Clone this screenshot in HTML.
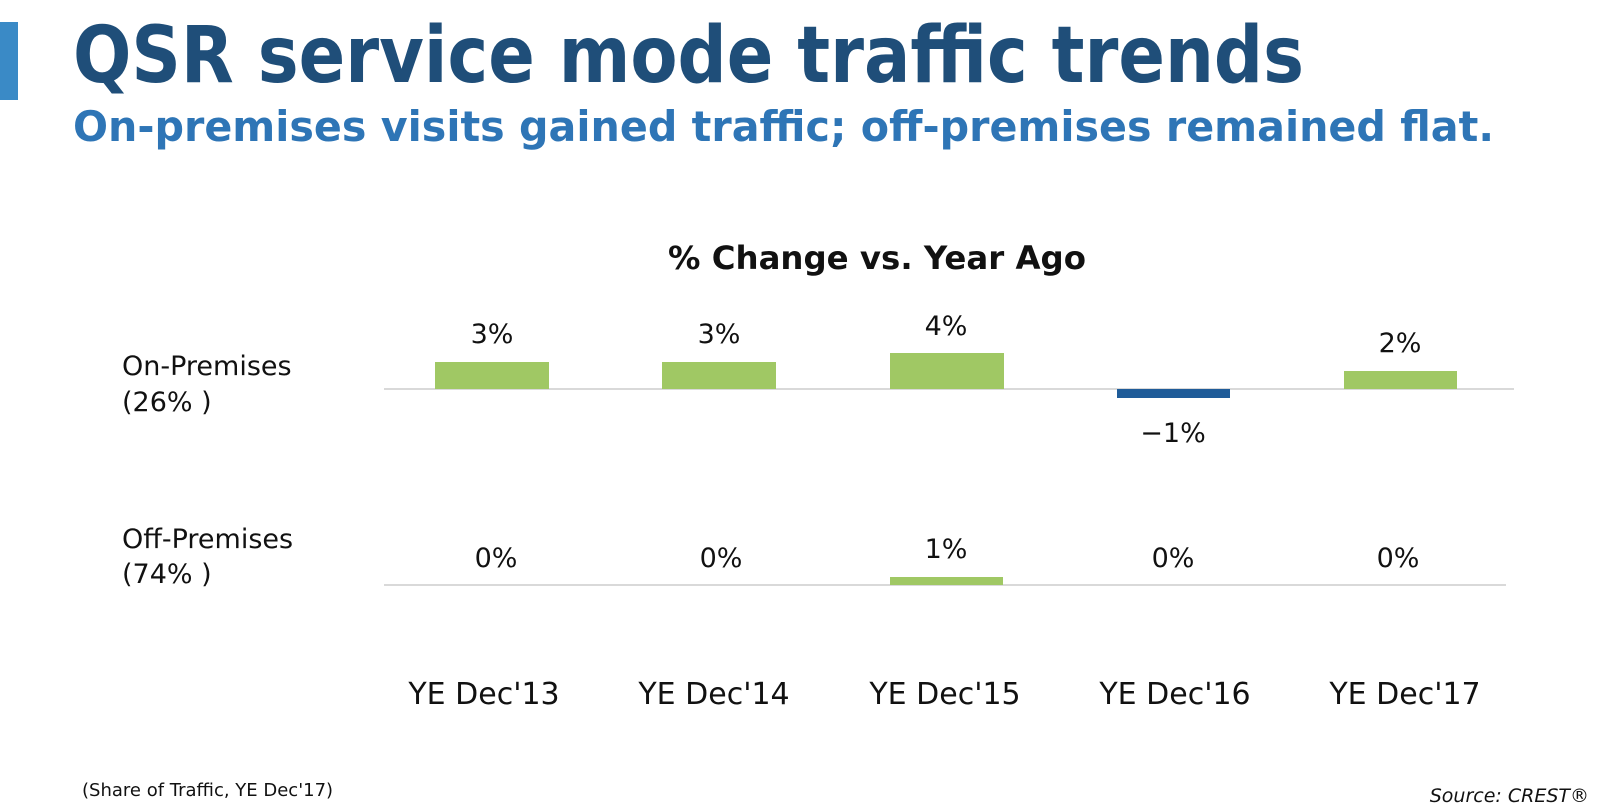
<!DOCTYPE html>
<html><head><style>body{margin:0;background:#fff}svg{display:block}</style></head>
<body>
<svg width="1600" height="806" xmlns="http://www.w3.org/2000/svg" font-family="'DejaVu Sans','Liberation Sans',sans-serif">
<rect x="0" y="22" width="18" height="78" fill="#3a8ac6"/>
<text x="73" y="82" font-size="78" font-weight="bold" fill="#1f4e79" textLength="1231" lengthAdjust="spacingAndGlyphs">QSR service mode traffic trends</text>
<text x="73" y="141" font-size="42" font-weight="bold" fill="#2e75b6" textLength="1421" lengthAdjust="spacingAndGlyphs">On-premises visits gained traffic; off-premises remained flat.</text>
<text x="877" y="269" font-size="32" font-weight="bold" fill="#111" text-anchor="middle" textLength="418" lengthAdjust="spacingAndGlyphs">% Change vs. Year Ago</text>
<g font-size="27" fill="#111">
<text x="122" y="375">On-Premises</text><text x="122" y="411">(26% )</text>
<text x="122" y="548">Off-Premises</text><text x="122" y="583">(74% )</text>
</g>
<line x1="384" y1="389" x2="1514" y2="389" stroke="#d9d9d9" stroke-width="2"/>
<line x1="384" y1="585" x2="1506" y2="585" stroke="#d9d9d9" stroke-width="2"/>
<g fill="#a0c864">
<rect x="435" y="362" width="114" height="27"/>
<rect x="662" y="362" width="114" height="27"/>
<rect x="890" y="353" width="114" height="36"/>
<rect x="1344" y="371" width="113" height="18"/>
<rect x="890" y="577" width="113" height="8"/>
</g>
<rect x="1117" y="389" width="113" height="9" fill="#1f5c99"/>
<g font-size="27" fill="#111" text-anchor="middle">
<text x="492" y="343">3%</text><text x="719" y="343">3%</text><text x="946" y="335">4%</text>
<text x="1173" y="442">−1%</text><text x="1400" y="352">2%</text>
<text x="496" y="567">0%</text><text x="721" y="567">0%</text><text x="946" y="558">1%</text>
<text x="1173" y="567">0%</text><text x="1398" y="567">0%</text>
</g>
<g font-size="30" fill="#111" text-anchor="middle">
<text x="484" y="704">YE Dec'13</text><text x="714" y="704">YE Dec'14</text><text x="945" y="704">YE Dec'15</text>
<text x="1175" y="704">YE Dec'16</text><text x="1405" y="704">YE Dec'17</text>
</g>
<text x="82" y="796" font-size="18" fill="#111">(Share of Traffic, YE Dec'17)</text>
<text x="1589" y="802" font-size="19" font-style="italic" fill="#111" text-anchor="end">Source: CREST®</text>
</svg>
</body></html>
